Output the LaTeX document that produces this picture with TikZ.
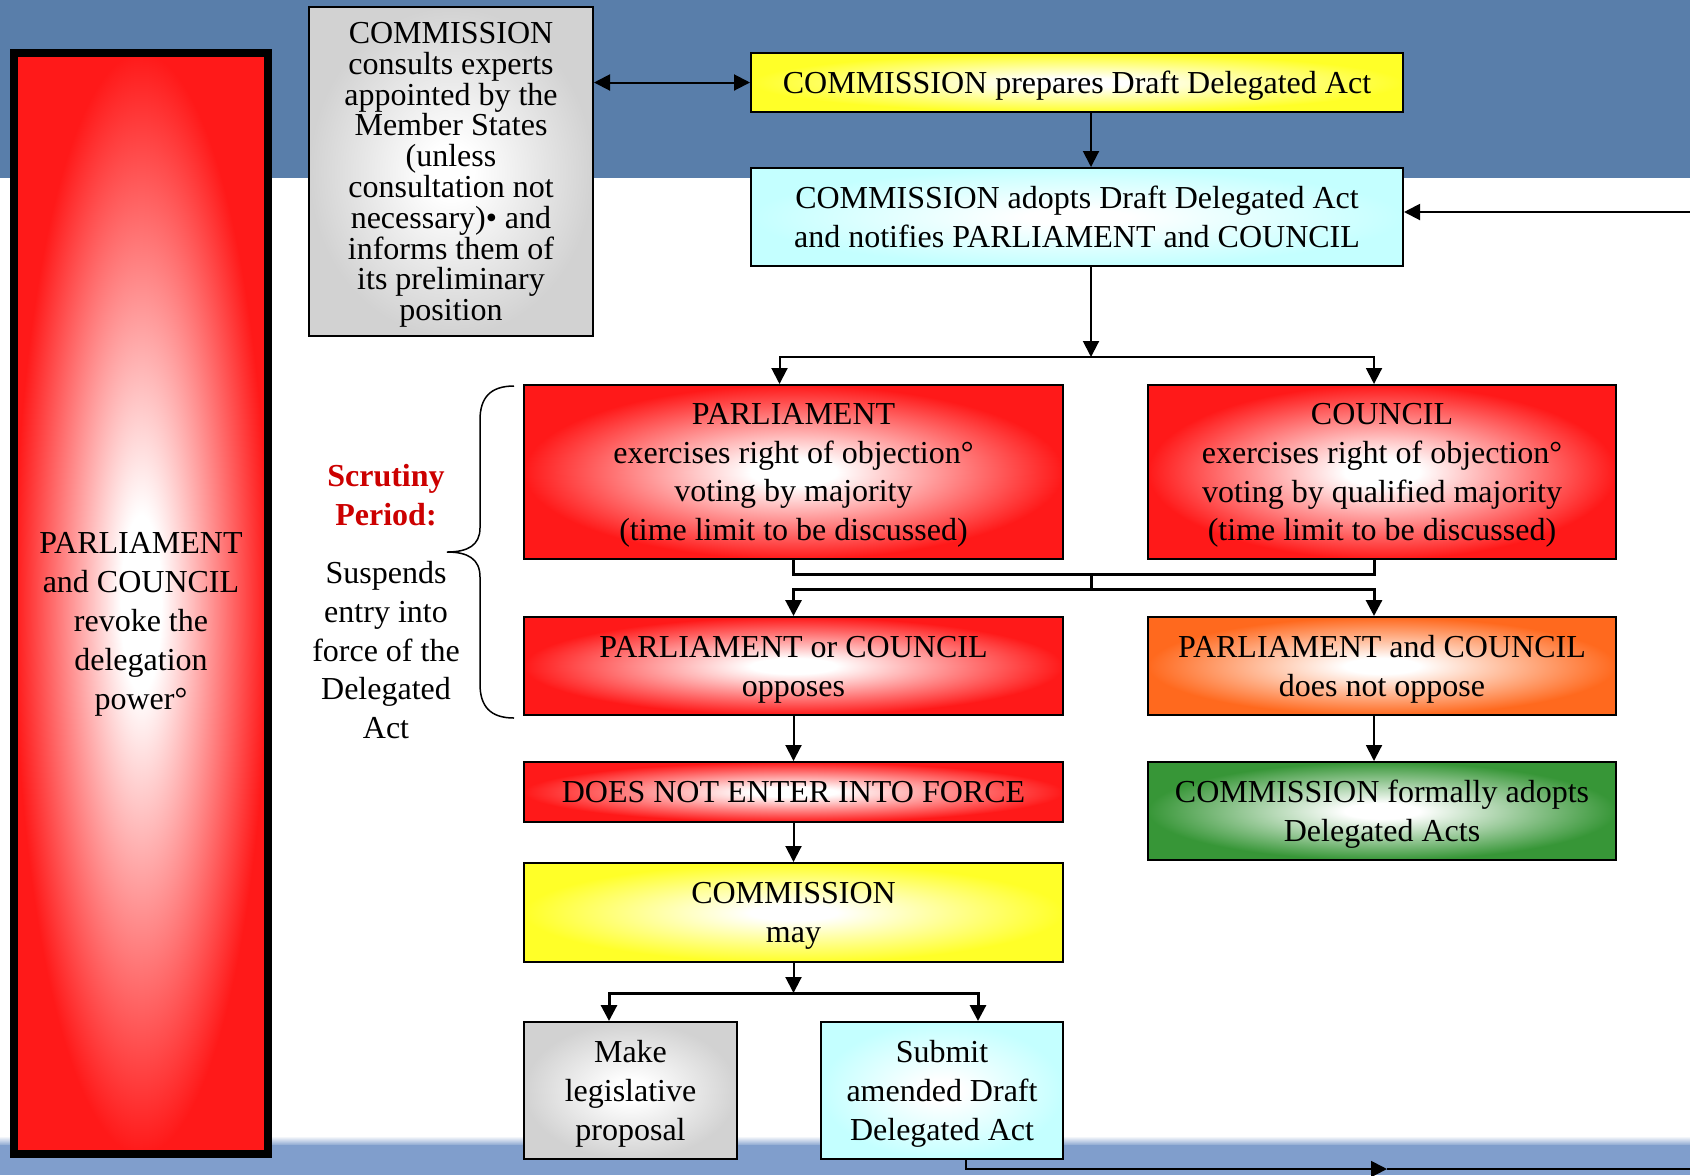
\documentclass[tikz,border=0pt]{standalone}
\usepackage{fontspec}
\setmainfont{Liberation Serif}
\usetikzlibrary{arrows.meta,positioning}

\definecolor{bandblue}{RGB}{89,126,170}
\definecolor{stripblue}{RGB}{128,158,204}
\definecolor{boxred}{RGB}{255,25,25}
\definecolor{boxyellow}{RGB}{255,255,40}
\definecolor{boxcyan}{RGB}{196,255,255}
\definecolor{boxgray}{RGB}{210,210,210}
\definecolor{boxorange}{RGB}{255,105,30}
\definecolor{boxgreen}{RGB}{55,150,55}
\definecolor{scrutred}{RGB}{204,0,0}

\pgfdeclareradialshading{redglow}{\pgfpoint{0bp}{0bp}}{color(0bp)=(white); color(4bp)=(white); color(25bp)=(boxred); color(50bp)=(boxred)}
\pgfdeclareradialshading{yellowglow}{\pgfpoint{0bp}{0bp}}{color(0bp)=(white); color(4bp)=(white); color(25bp)=(boxyellow); color(50bp)=(boxyellow)}
\pgfdeclareradialshading{cyanglow}{\pgfpoint{0bp}{0bp}}{color(0bp)=(white); color(4bp)=(white); color(25bp)=(boxcyan); color(50bp)=(boxcyan)}
\pgfdeclareradialshading{grayglow}{\pgfpoint{0bp}{0bp}}{color(0bp)=(white); color(4bp)=(white); color(25bp)=(boxgray); color(50bp)=(boxgray)}
\pgfdeclareradialshading{orangeglow}{\pgfpoint{0bp}{0bp}}{color(0bp)=(white); color(4bp)=(white); color(25bp)=(boxorange); color(50bp)=(boxorange)}
\pgfdeclareradialshading{greenglow}{\pgfpoint{0bp}{0bp}}{color(0bp)=(white); color(4bp)=(white); color(25bp)=(boxgreen); color(50bp)=(boxgreen)}

\tikzset{
	box/.style={draw, line width=1pt, rectangle, inner sep=0pt, align=center, text depth=0pt,
		font=\fontsize{16pt}{19.4pt}\selectfont},
	redbox/.style={box, shade, shading=redglow},
	yellowbox/.style={box, shade, shading=yellowglow},
	cyanbox/.style={box, shade, shading=cyanglow},
	graybox/.style={box, shade, shading=grayglow},
	orangebox/.style={box, shade, shading=orangeglow},
	greenbox/.style={box, shade, shading=greenglow},
	revokebox/.style={draw, line width=4pt, rectangle, shade, shading=redglow},
	plain/.style={align=center, inner sep=0pt, text depth=0pt, font=\fontsize{16pt}{19.4pt}\selectfont},
	link/.style={line width=1pt, -{Triangle[width=8pt,length=8pt]}},
	twoway/.style={line width=1pt, {Triangle[width=8pt,length=8pt]}-{Triangle[width=8pt,length=8pt]}},
	joint/.style={line width=1.5pt}
}

\begin{document}
\begin{tikzpicture}[x=0.5pt, y=-0.5pt]
	\useasboundingbox (0,0) rectangle (1690,1175);
	\fill[bandblue] (0,0) rectangle (1690,178);
	\shade[top color=white, bottom color=stripblue] (0,1136) rectangle (1690,1146);
	\fill[stripblue] (0,1145) rectangle (1690,1175);

	\node[revokebox, minimum width=127pt, minimum height=550.5pt] (revoke) at (141,603.5) {};
	\node[plain] (revoketext) at (141,621) {PARLIAMENT\\and COUNCIL\\revoke the\\delegation\\power°};
	\node[graybox, minimum width=142pt, minimum height=164.5pt, font=\fontsize{16pt}{15.4pt}\selectfont] (consult) at (451,171.5) {COMMISSION\\consults experts\\appointed by the\\Member States\\(unless\\consultation not\\necessary)• and\\informs them of\\its preliminary\\position};
	\node[yellowbox, minimum width=326pt, minimum height=29.5pt] (prepare) at (1077,82.5) {COMMISSION prepares Draft Delegated Act};
	\node[cyanbox, minimum width=326pt, minimum height=49pt] (adopt) at (1077,217) {COMMISSION adopts Draft Delegated Act\\and notifies PARLIAMENT and COUNCIL};
	\node[redbox, minimum width=269.5pt, minimum height=87pt] (parl) at (793.5,472) {PARLIAMENT\\exercises right of objection°\\voting by majority\\(time limit to be discussed)};
	\node[redbox, minimum width=234pt, minimum height=87pt] (council) at (1382,472) {COUNCIL\\exercises right of objection°\\voting by qualified majority\\(time limit to be discussed)};
	\node[redbox, minimum width=269.5pt, minimum height=49pt] (oppose) at (793.5,666) {PARLIAMENT or COUNCIL\\opposes};
	\node[orangebox, minimum width=234pt, minimum height=49pt] (notoppose) at (1382,666) {PARLIAMENT and COUNCIL\\does not oppose};
	\node[redbox, minimum width=269.5pt, minimum height=30pt] (noforce) at (793.5,792) {DOES NOT ENTER INTO FORCE};
	\node[greenbox, minimum width=234pt, minimum height=49pt] (formal) at (1382,811) {COMMISSION formally adopts\\Delegated Acts};
	\node[yellowbox, minimum width=269.5pt, minimum height=49.5pt] (may) at (793.5,912.5) {COMMISSION\\may};
	\node[graybox, minimum width=106.5pt, minimum height=68.5pt] (make) at (630.5,1090.5) {Make\\legislative\\proposal};
	\node[cyanbox, minimum width=121pt, minimum height=68.5pt] (submit) at (942,1090.5) {Submit\\amended Draft\\Delegated Act};

	\node[plain, text=scrutred, font=\fontsize{16pt}{19.4pt}\selectfont\bfseries] (scrutiny) at (386,495) {Scrutiny\\Period:};
	\node[plain] (suspends) at (386,650) {Suspends\\entry into\\force of the\\Delegated\\Act};
	% brace
	\draw[line width=0.75pt] (514,386) .. controls (490,386) and (480,398) .. (480,420) -- (480,528)
		.. controls (480,545) and (468,552) .. (447,552) .. controls (468,552) and (480,559) .. (480,577)
		-- (480,684) .. controls (480,706) and (490,718) .. (514,718);

	\coordinate (split) at (1091,357);
	\coordinate (merge) at (1091,574);
	\coordinate (fork) at (1091,589);
	\coordinate (choice) at (793.5,993);
	\coordinate (loopmid) at (1387,1169);
	\coordinate (edgelow) at (1690,1169);
	\coordinate (edgehigh) at (1690,212);

	\draw[twoway] (consult.east |- prepare.west) -- (prepare.west);
	\draw[link] (split |- prepare.south) -- (split |- adopt.north);
	\draw[link] (split |- adopt.south) -- (split);
	\draw[link] (split) -| ([xshift=-7pt]parl.north);
	\draw[link] (split) -| ([xshift=-4pt]council.north);
	\draw[joint] (parl.south) |- (merge) -| ([xshift=-4pt]council.south);
	\draw[joint] (merge) -- (fork);
	\draw[link, line width=1.5pt] (fork) -| (oppose.north);
	\draw[link, line width=1.5pt] (fork) -| ([xshift=-4pt]notoppose.north);
	\path[link]
	(oppose) edge (noforce)
	(noforce) edge (may);
	\draw[link] ([xshift=-4pt]notoppose.south) -- ([xshift=-4pt]formal.north);
	\draw[link] (may.south) -- (choice);
	\draw[link, line width=1.5pt] (choice) -| ([xshift=-10.75pt]make.north);
	\draw[link, line width=1.5pt] (choice) -| ([xshift=18pt]submit.north);
	\draw[link] ([xshift=12pt]submit.south) |- (loopmid);
	\draw[line width=1pt] (loopmid) -- (edgelow);
	\draw[link] (edgehigh) -- (adopt.east |- edgehigh);
\end{tikzpicture}
\end{document}
